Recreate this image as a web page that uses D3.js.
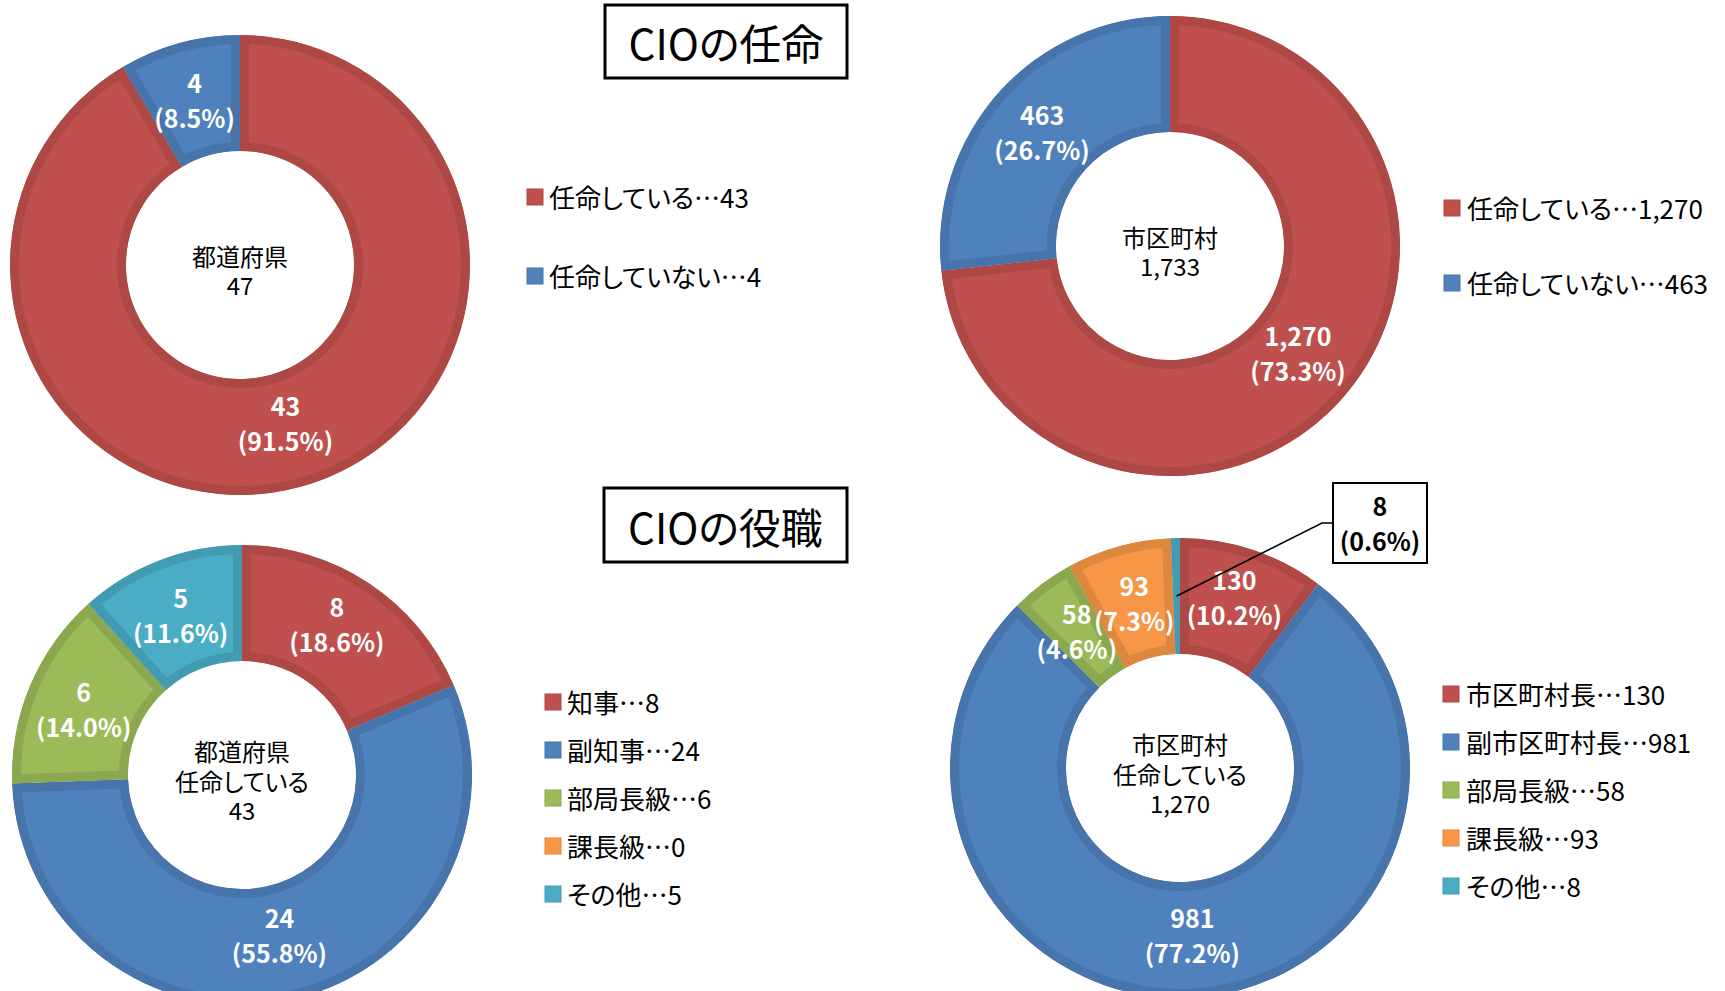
<!DOCTYPE html>
<html>
<head>
<meta charset="UTF-8">
<title>CIOの任命・役職</title>
<script src="https://cdn.jsdelivr.net/npm/d3@7/dist/d3.min.js"></script>
<style>
  body { margin: 0; background: #fff; }
  text { font-family: "Noto Sans CJK JP", "Noto Sans", sans-serif; font-feature-settings: "palt"; }
</style>
</head>
<body>
<script>
// データ
var appointCats = ["任命している", "任命していない"];
var prefAppoint = [43, 4];
var muniAppoint = [1270, 463];

var prefRoleCats = ["知事", "副知事", "部局長級", "課長級", "その他"];
var muniRoleCats = ["市区町村長", "副市区町村長", "部局長級", "課長級", "その他"];
var prefRole = [8, 24, 6, 0, 5];
var muniRole = [130, 981, 58, 93, 8];

var centerPrefAppoint = ["都道府県", "47"];
var centerMuniAppoint = ["市区町村", "1,733"];
var centerPrefRole = ["都道府県", "任命している", "43"];
var centerMuniRole = ["市区町村", "任命している", "1,270"];

var titles = ["CIOの任命", "CIOの役職"];
var colors = ["#C0504D", "#4F81BD", "#9BBB59", "#F79646", "#4BACC6"];

var width = 1725, height = 991;
var svg = d3.select("body").append("svg")
  .attr("width", width)
  .attr("height", height);

var fmtNum = d3.format(",");
var fmtPct = d3.format(".1%");
var innerR = 114, outerR = 230, borderW = 9;

var pie = d3.pie().sort(null).value(function(d){ return d; });
var arc = d3.arc().innerRadius(innerR).outerRadius(outerR);

// 各ドーナツの配置
var panels = [
  {id: "p1", cx: 240, cy: 265, values: prefAppoint, cats: appointCats, center: centerPrefAppoint,
   legend: {sx: 527, tx: 549, y0: 196, dy: 79}},
  {id: "p2", cx: 1170, cy: 246, values: muniAppoint, cats: appointCats, center: centerMuniAppoint,
   legend: {sx: 1444, tx: 1467, y0: 207, dy: 75}},
  {id: "p3", cx: 242, cy: 775, values: prefRole, cats: prefRoleCats, center: centerPrefRole,
   legend: {sx: 545, tx: 567, y0: 701, dy: 48}},
  {id: "p4", cx: 1180, cy: 768, values: muniRole, cats: muniRoleCats, center: centerMuniRole,
   legend: {sx: 1443, tx: 1466, y0: 693, dy: 48},
   callout: {index: 4, x: 1333, y: 483, w: 94, h: 80, elbowX: 1322}}
];

var defs = svg.append("defs");

panels.forEach(function(p){
  var total = d3.sum(p.values);
  var arcs = pie(p.values);
  var g = svg.append("g").attr("transform", "translate(" + p.cx + "," + p.cy + ")");

  // 扇形（内側に濃い枠線）
  arcs.forEach(function(a, i){
    if (a.value === 0) return;
    var clipId = p.id + "-clip-" + i;
    defs.append("clipPath").attr("id", clipId)
      .append("path").attr("d", arc(a));
    g.append("path")
      .attr("d", arc(a))
      .attr("clip-path", "url(#" + clipId + ")")
      .attr("fill", colors[i])
      .attr("stroke", d3.color(colors[i]).darker(0.3))
      .attr("stroke-width", borderW * 2);
  });

  // 中央の文字
  var lines = p.center;
  var lh = 29.5;
  lines.forEach(function(t, k){
    g.append("text")
      .attr("x", 0)
      .attr("y", 5 + (k - (lines.length - 1) / 2) * lh)
      .attr("text-anchor", "middle")
      .attr("dominant-baseline", "central")
      .attr("font-size", "24px")
      .attr("fill", "#000")
      .text(t);
  });

  // データラベル（右側のラベルは少し上へ）
  arcs.forEach(function(a, i){
    if (a.value === 0) return;
    if (p.callout && p.callout.index === i) return;
    var c = arc.centroid(a);
    var lift = 9 * Math.max(0, Math.min(1, c[0] / 20));
    var lbl = g.append("text")
      .attr("text-anchor", "middle")
      .attr("font-size", "25px")
      .attr("font-weight", "bold")
      .attr("fill", "#fff");
    lbl.append("tspan").attr("x", c[0]).attr("y", c[1] - 17 - lift)
      .attr("dominant-baseline", "central").text(fmtNum(a.value));
    lbl.append("tspan").attr("x", c[0]).attr("y", c[1] + 18 - lift)
      .attr("dominant-baseline", "central").text("(" + fmtPct(a.value / total) + ")");
  });

  // 吹き出しラベル
  if (p.callout) {
    var co = p.callout;
    var a = arcs[co.index];
    var c = arc.centroid(a);
    var midY = co.y + co.h / 2;
    svg.append("polyline")
      .attr("points", [[p.cx + c[0], p.cy + c[1]], [co.elbowX, midY], [co.x, midY]].join(" "))
      .attr("fill", "none")
      .attr("stroke", "#000")
      .attr("stroke-width", 1.6);
    svg.append("rect")
      .attr("x", co.x).attr("y", co.y)
      .attr("width", co.w).attr("height", co.h)
      .attr("fill", "#fff")
      .attr("stroke", "#000")
      .attr("stroke-width", 2);
    var t = svg.append("text")
      .attr("text-anchor", "middle")
      .attr("font-size", "25px")
      .attr("font-weight", "bold")
      .attr("fill", "#000");
    t.append("tspan").attr("x", co.x + co.w / 2).attr("y", co.y + 22)
      .attr("dominant-baseline", "central").text(fmtNum(a.value));
    t.append("tspan").attr("x", co.x + co.w / 2).attr("y", co.y + 57)
      .attr("dominant-baseline", "central").text("(" + fmtPct(a.value / total) + ")");
  }

  // 凡例
  var lg = svg.append("g");
  p.cats.forEach(function(name, i){
    var y = p.legend.y0 + i * p.legend.dy;
    lg.append("rect")
      .attr("x", p.legend.sx).attr("y", y - 7)
      .attr("width", 16).attr("height", 16)
      .attr("fill", colors[i])
      .attr("stroke", d3.color(colors[i]).darker(0.3))
      .attr("stroke-width", 1);
    lg.append("text")
      .attr("x", p.legend.tx).attr("y", y)
      .attr("dominant-baseline", "central")
      .attr("font-size", "26px")
      .attr("fill", "#000")
      .text(name + "…" + fmtNum(p.values[i]));
  });
});

// 見出し
var titleBoxes = [{x: 605, y: 5, w: 242, h: 73}, {x: 604, y: 488, w: 243, h: 74}];
titleBoxes.forEach(function(b, i){
  svg.append("rect")
    .attr("x", b.x).attr("y", b.y)
    .attr("width", b.w).attr("height", b.h)
    .attr("fill", "#fff")
    .attr("stroke", "#000")
    .attr("stroke-width", 3);
  svg.append("text")
    .attr("x", b.x + b.w / 2)
    .attr("y", b.y + b.h / 2)
    .attr("text-anchor", "middle")
    .attr("dominant-baseline", "central")
    .attr("font-size", "42px")
    .attr("fill", "#000")
    .text(titles[i]);
});
</script>
</body>
</html>
